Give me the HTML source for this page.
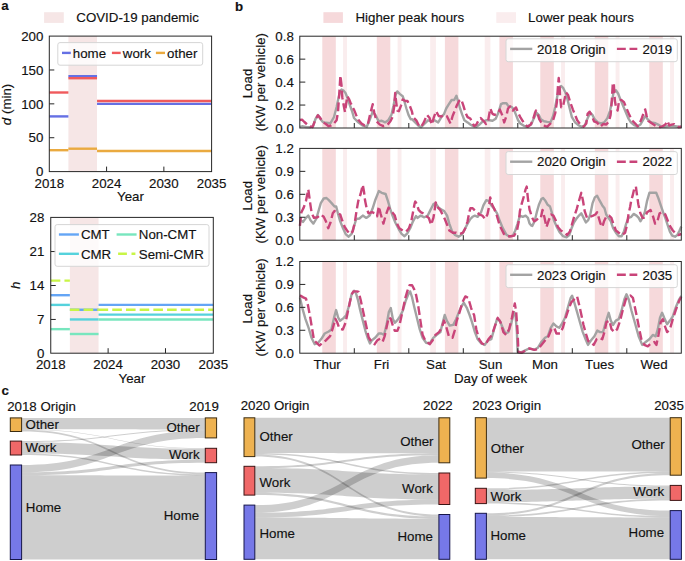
<!DOCTYPE html>
<html><head><meta charset="utf-8"><style>
html,body{margin:0;padding:0;background:#fff;}
svg{display:block;}
text{font-family:"Liberation Sans",sans-serif;font-size:13.3px;fill:#111;stroke:#111;stroke-width:0.15px;}
</style></head><body>
<svg width="685" height="561" viewBox="0 0 685 561">
<rect width="685" height="561" fill="#ffffff"/>
<text x="1.20" y="9.90" font-weight="bold">a</text>
<rect x="44.10" y="12.20" width="19.70" height="10.70" fill="#f6e6e6"/>
<text x="76.30" y="22.40">COVID-19 pandemic</text>
<rect x="68.39" y="36.10" width="28.64" height="135.50" fill="#f6e6e6"/>
<line x1="49.30" y1="116.40" x2="68.39" y2="116.40" stroke="#6570e4" stroke-width="2.4"/>
<line x1="68.39" y1="76.20" x2="97.04" y2="76.20" stroke="#6570e4" stroke-width="2.4"/>
<line x1="97.04" y1="103.90" x2="211.60" y2="103.90" stroke="#6570e4" stroke-width="2.4"/>
<line x1="49.30" y1="92.50" x2="68.39" y2="92.50" stroke="#f05a5c" stroke-width="2.4"/>
<line x1="68.39" y1="78.20" x2="97.04" y2="78.20" stroke="#f05a5c" stroke-width="2.4"/>
<line x1="97.04" y1="101.00" x2="211.60" y2="101.00" stroke="#f05a5c" stroke-width="2.4"/>
<line x1="49.30" y1="150.20" x2="68.39" y2="150.20" stroke="#eaaa40" stroke-width="2.4"/>
<line x1="68.39" y1="148.70" x2="97.04" y2="148.70" stroke="#eaaa40" stroke-width="2.4"/>
<line x1="97.04" y1="151.00" x2="211.60" y2="151.00" stroke="#eaaa40" stroke-width="2.4"/>
<line x1="106.58" y1="171.60" x2="106.58" y2="166.60" stroke="#262626" stroke-width="1"/>
<line x1="163.86" y1="171.60" x2="163.86" y2="166.60" stroke="#262626" stroke-width="1"/>
<line x1="49.30" y1="137.72" x2="54.30" y2="137.72" stroke="#262626" stroke-width="1"/>
<line x1="49.30" y1="103.85" x2="54.30" y2="103.85" stroke="#262626" stroke-width="1"/>
<line x1="49.30" y1="69.97" x2="54.30" y2="69.97" stroke="#262626" stroke-width="1"/>
<rect x="49.30" y="36.10" width="162.30" height="135.50" fill="none" stroke="#262626" stroke-width="1"/>
<text x="43.40" y="176.36" text-anchor="end">0</text>
<text x="43.40" y="142.49" text-anchor="end">50</text>
<text x="43.40" y="108.61" text-anchor="end">100</text>
<text x="43.40" y="74.74" text-anchor="end">150</text>
<text x="43.40" y="40.86" text-anchor="end">200</text>
<text x="49.30" y="187.90" text-anchor="middle">2018</text>
<text x="106.58" y="187.90" text-anchor="middle">2024</text>
<text x="163.86" y="187.90" text-anchor="middle">2030</text>
<text x="211.60" y="187.90" text-anchor="middle">2035</text>
<text x="130.45" y="201.40" text-anchor="middle">Year</text>
<text transform="translate(10.8,104.45) rotate(-90)" text-anchor="middle"><tspan font-style="italic">d</tspan> (min)</text>
<rect x="57.80" y="42.60" width="144.90" height="22.60" rx="2.2" fill="#ffffff" fill-opacity="0.8" stroke="#d6d6d6" stroke-width="1"/>
<line x1="62.00" y1="52.90" x2="70.80" y2="52.90" stroke="#6570e4" stroke-width="2.4"/>
<text x="72.80" y="57.50">home</text>
<line x1="111.90" y1="52.90" x2="120.70" y2="52.90" stroke="#f05a5c" stroke-width="2.4"/>
<text x="122.80" y="57.50">work</text>
<line x1="155.90" y1="52.90" x2="165.00" y2="52.90" stroke="#eaaa40" stroke-width="2.4"/>
<text x="167.10" y="57.50">other</text>
<rect x="69.87" y="217.40" width="28.69" height="135.80" fill="#f6e6e6"/>
<line x1="50.75" y1="295.20" x2="69.87" y2="295.20" stroke="#64a5f5" stroke-width="2.4"/>
<line x1="69.87" y1="309.75" x2="98.56" y2="309.75" stroke="#64a5f5" stroke-width="2.4"/>
<line x1="98.56" y1="304.90" x2="213.30" y2="304.90" stroke="#64a5f5" stroke-width="2.4"/>
<line x1="50.75" y1="304.90" x2="69.87" y2="304.90" stroke="#55d2dc" stroke-width="2.4"/>
<line x1="69.87" y1="319.45" x2="98.56" y2="319.45" stroke="#55d2dc" stroke-width="2.4"/>
<line x1="98.56" y1="314.60" x2="213.30" y2="314.60" stroke="#55d2dc" stroke-width="2.4"/>
<line x1="50.75" y1="329.15" x2="69.87" y2="329.15" stroke="#78e6be" stroke-width="2.4"/>
<line x1="69.87" y1="334.00" x2="98.56" y2="334.00" stroke="#78e6be" stroke-width="2.4"/>
<line x1="98.56" y1="319.45" x2="213.30" y2="319.45" stroke="#78e6be" stroke-width="2.4"/>
<line x1="50.75" y1="280.65" x2="69.87" y2="280.65" stroke="#c8f546" stroke-width="2.4" stroke-dasharray="9.6,4.1"/>
<line x1="69.87" y1="309.75" x2="98.56" y2="309.75" stroke="#c8f546" stroke-width="2.4" stroke-dasharray="9.6,4.1"/>
<line x1="98.56" y1="309.75" x2="213.30" y2="309.75" stroke="#c8f546" stroke-width="2.4" stroke-dasharray="9.6,4.1"/>
<line x1="108.12" y1="353.20" x2="108.12" y2="348.20" stroke="#262626" stroke-width="1"/>
<line x1="165.49" y1="353.20" x2="165.49" y2="348.20" stroke="#262626" stroke-width="1"/>
<line x1="50.75" y1="319.45" x2="55.75" y2="319.45" stroke="#262626" stroke-width="1"/>
<line x1="50.75" y1="285.50" x2="55.75" y2="285.50" stroke="#262626" stroke-width="1"/>
<line x1="50.75" y1="251.55" x2="55.75" y2="251.55" stroke="#262626" stroke-width="1"/>
<rect x="50.75" y="217.40" width="162.55" height="135.80" fill="none" stroke="#262626" stroke-width="1"/>
<text x="44.30" y="358.16" text-anchor="end">0</text>
<text x="44.30" y="324.21" text-anchor="end">7</text>
<text x="44.30" y="290.26" text-anchor="end">14</text>
<text x="44.30" y="256.31" text-anchor="end">21</text>
<text x="44.30" y="222.36" text-anchor="end">28</text>
<text x="50.75" y="369.40" text-anchor="middle">2018</text>
<text x="108.12" y="369.40" text-anchor="middle">2024</text>
<text x="165.49" y="369.40" text-anchor="middle">2030</text>
<text x="213.30" y="369.40" text-anchor="middle">2035</text>
<text x="132.03" y="382.70" text-anchor="middle">Year</text>
<text transform="translate(20.3,285.30) rotate(-90)" text-anchor="middle" font-style="italic">h</text>
<rect x="55.00" y="224.60" width="154.00" height="41.70" rx="2.2" fill="#ffffff" fill-opacity="0.8" stroke="#d6d6d6" stroke-width="1"/>
<line x1="58.90" y1="234.50" x2="78.90" y2="234.50" stroke="#64a5f5" stroke-width="2.4"/>
<text x="80.90" y="239.20">CMT</text>
<line x1="58.90" y1="253.80" x2="78.90" y2="253.80" stroke="#55d2dc" stroke-width="2.4"/>
<text x="80.90" y="258.50">CMR</text>
<line x1="116.60" y1="234.50" x2="136.60" y2="234.50" stroke="#78e6be" stroke-width="2.4"/>
<text x="138.80" y="239.20">Non-CMT</text>
<line x1="118.10" y1="253.80" x2="135.40" y2="253.80" stroke="#c8f546" stroke-width="2.4" stroke-dasharray="8.8,4.6"/>
<text x="138.80" y="258.50">Semi-CMR</text>
<text x="235.00" y="10.70" font-weight="bold">b</text>
<rect x="323.40" y="12.20" width="19.50" height="10.70" fill="#f6d9db"/>
<text x="355.50" y="22.40">Higher peak hours</text>
<rect x="496.30" y="12.20" width="19.70" height="10.70" fill="#faedee"/>
<text x="528.10" y="22.40">Lower peak hours</text>
<rect x="322.30" y="36.20" width="13.50" height="91.80" fill="#f6d9db"/>
<rect x="343.10" y="36.20" width="3.90" height="91.80" fill="#faedee"/>
<rect x="376.80" y="36.20" width="13.50" height="91.80" fill="#f6d9db"/>
<rect x="397.60" y="36.20" width="3.90" height="91.80" fill="#faedee"/>
<rect x="430.20" y="36.20" width="5.70" height="91.80" fill="#faedee"/>
<rect x="444.90" y="36.20" width="13.50" height="91.80" fill="#f6d9db"/>
<rect x="484.70" y="36.20" width="5.70" height="91.80" fill="#faedee"/>
<rect x="499.40" y="36.20" width="13.50" height="91.80" fill="#f6d9db"/>
<rect x="540.30" y="36.20" width="13.50" height="91.80" fill="#f6d9db"/>
<rect x="561.10" y="36.20" width="3.90" height="91.80" fill="#faedee"/>
<rect x="594.80" y="36.20" width="13.50" height="91.80" fill="#f6d9db"/>
<rect x="615.60" y="36.20" width="3.90" height="91.80" fill="#faedee"/>
<rect x="649.30" y="36.20" width="13.50" height="91.80" fill="#f6d9db"/>
<rect x="670.10" y="36.20" width="3.90" height="91.80" fill="#faedee"/>
<polyline points="299.9,126.9 303.0,126.3 306.0,127.0 310.0,127.3 313.0,126.0 315.5,119.0 318.0,115.0 320.0,118.5 322.6,121.8 326.0,122.8 330.5,123.1 334.0,117.0 336.6,107.0 338.0,100.0 340.0,92.0 341.5,89.5 343.5,90.5 345.5,93.0 347.5,98.0 349.5,104.0 352.0,111.0 354.0,118.0 358.3,122.4 362.6,125.6 366.8,126.7 370.0,119.2 372.7,111.7 375.4,114.9 378.6,121.3 381.8,120.8 385.0,122.4 388.2,120.3 391.4,114.9 393.6,105.3 395.7,94.6 397.3,91.4 400.0,94.1 402.7,96.2 404.3,101.0 406.4,108.5 408.5,114.9 410.7,119.2 412.0,119.2 415.2,122.4 418.4,125.6 421.1,127.2 423.8,124.5 428.0,120.3 431.3,121.3 434.5,120.3 438.2,122.4 441.4,117.1 444.1,113.9 446.2,108.5 448.9,104.2 451.6,100.0 454.2,100.0 456.4,95.7 458.0,101.0 460.1,108.5 462.3,114.9 464.4,120.3 467.6,122.4 470.3,124.5 473.2,126.1 476.4,126.7 479.6,124.5 482.8,121.3 486.0,120.3 489.3,120.3 492.5,120.8 495.7,118.7 498.3,112.8 501.0,104.2 503.2,103.2 506.4,103.2 508.5,106.4 511.7,106.9 513.9,109.6 516.0,114.9 518.1,120.3 520.3,123.5 523.5,125.6 526.7,126.7 531.2,124.5 533.9,118.1 536.6,112.8 538.7,114.9 540.8,119.2 544.0,121.3 547.3,121.9 550.5,122.4 553.1,116.0 555.3,106.4 557.4,95.7 559.6,87.1 561.2,86.0 563.3,88.2 565.4,92.5 567.6,99.9 569.7,108.5 571.9,117.1 575.1,122.4 578.3,125.1 581.5,126.7 584.7,125.6 588.1,117.1 590.3,112.8 592.4,114.9 594.6,119.2 597.8,122.4 601.0,123.5 604.2,122.4 607.4,118.1 610.1,110.6 612.2,99.9 613.8,91.4 615.9,90.3 618.1,93.5 620.2,98.9 622.9,105.3 625.6,111.7 628.2,118.1 630.9,122.4 634.1,125.1 637.3,126.3 640.5,124.5 643.9,118.3 645.7,115.6 647.5,119.2 650.2,121.9 652.8,122.8 655.5,123.2 658.2,124.6 660.8,126.3 664.4,126.8 668.0,126.3 671.5,125.9 675.1,126.3 678.7,126.8 681.3,126.8" fill="none" stroke="#a3a3a3" stroke-width="2.4" stroke-linejoin="round"/>
<polyline points="299.9,120.0 302.0,119.6 304.4,122.0 308.0,125.2 310.0,126.5 312.6,127.2 315.0,120.8 317.9,115.2 320.2,117.9 323.1,122.5 325.5,123.7 328.4,126.0 331.0,125.5 333.1,124.3 336.6,120.2 338.0,112.0 339.5,90.0 340.4,75.6 341.5,85.0 342.3,97.4 344.0,107.0 345.0,112.0 346.0,105.0 347.3,96.2 349.0,99.0 350.4,102.4 353.0,108.0 354.0,109.6 356.1,114.9 358.3,119.7 361.5,123.5 364.7,125.6 367.9,124.0 370.0,114.9 372.7,104.2 374.3,112.8 376.5,121.3 379.7,124.5 383.4,126.1 387.2,125.1 390.4,121.3 392.5,117.1 394.1,107.4 395.2,93.0 396.2,102.1 397.3,110.6 398.9,111.2 401.1,105.3 402.7,99.4 405.3,101.0 407.5,101.0 409.6,105.3 412.0,111.7 413.1,117.1 416.3,120.3 419.5,126.7 421.6,126.1 423.8,122.4 427.0,114.9 429.6,118.1 431.8,124.5 433.9,117.1 436.1,111.2 438.7,116.0 441.4,116.5 444.1,114.9 446.8,116.0 448.9,120.3 450.5,123.5 452.6,116.0 454.8,110.6 456.9,105.3 459.1,101.0 461.2,99.4 463.3,105.3 465.5,112.8 467.6,117.1 470.3,118.5 472.1,122.4 474.3,126.1 476.4,124.5 478.6,120.3 480.7,118.1 483.9,121.3 486.0,124.0 488.2,120.3 490.3,108.5 492.5,113.9 494.6,114.9 497.3,113.9 499.9,109.6 502.1,114.9 504.2,122.4 506.4,116.0 508.0,108.5 510.1,106.4 512.8,110.6 516.0,107.4 518.1,112.8 520.3,117.1 522.9,121.3 525.1,124.5 527.8,126.7 530.7,124.5 532.8,120.3 535.0,112.8 536.0,110.6 537.6,113.9 539.2,119.2 541.9,123.5 545.1,126.1 547.3,126.7 550.5,123.5 553.1,120.3 555.3,112.8 556.9,102.1 557.9,87.1 558.7,78.0 559.6,86.0 560.1,96.7 561.2,107.4 562.8,107.4 564.4,99.9 566.0,92.5 568.1,95.1 570.2,102.1 572.9,109.6 575.1,114.9 577.2,120.3 580.4,124.5 583.6,126.7 586.3,123.5 587.6,113.9 589.7,111.7 591.9,116.0 594.0,121.3 596.7,122.4 598.8,124.5 600.4,126.7 603.1,124.0 606.3,124.5 609.0,121.3 610.6,114.9 611.7,102.1 612.7,85.0 613.8,82.8 614.3,91.4 614.9,101.0 615.9,106.4 617.6,110.6 619.2,99.9 621.3,99.9 624.0,102.1 626.6,108.5 629.3,114.9 632.0,120.3 635.2,123.5 637.7,126.3 639.9,122.8 642.1,117.4 643.9,112.1 645.2,109.4 646.6,115.6 648.4,121.0 651.0,122.8 653.7,124.6 656.4,126.3 660.0,127.2 662.6,126.3 665.3,124.6 667.5,121.0 669.3,125.5 671.5,124.6 674.2,124.1 676.4,125.5 678.7,127.2 681.3,126.8" fill="none" stroke="#c94479" stroke-width="2.4" stroke-dasharray="8.9,3.8" stroke-linejoin="round"/>
<line x1="354.30" y1="128.00" x2="354.30" y2="123.00" stroke="#262626" stroke-width="1"/>
<line x1="408.80" y1="128.00" x2="408.80" y2="123.00" stroke="#262626" stroke-width="1"/>
<line x1="463.30" y1="128.00" x2="463.30" y2="123.00" stroke="#262626" stroke-width="1"/>
<line x1="517.80" y1="128.00" x2="517.80" y2="123.00" stroke="#262626" stroke-width="1"/>
<line x1="572.30" y1="128.00" x2="572.30" y2="123.00" stroke="#262626" stroke-width="1"/>
<line x1="626.80" y1="128.00" x2="626.80" y2="123.00" stroke="#262626" stroke-width="1"/>
<line x1="299.80" y1="105.05" x2="305.30" y2="105.05" stroke="#262626" stroke-width="1"/>
<line x1="299.80" y1="82.10" x2="305.30" y2="82.10" stroke="#262626" stroke-width="1"/>
<line x1="299.80" y1="59.15" x2="305.30" y2="59.15" stroke="#262626" stroke-width="1"/>
<rect x="299.80" y="36.20" width="381.50" height="91.80" fill="none" stroke="#262626" stroke-width="1"/>
<text x="293.80" y="132.76" text-anchor="end">0.0</text>
<text x="293.80" y="109.81" text-anchor="end">0.2</text>
<text x="293.80" y="86.86" text-anchor="end">0.4</text>
<text x="293.80" y="63.91" text-anchor="end">0.6</text>
<text x="293.80" y="40.96" text-anchor="end">0.8</text>
<text transform="translate(252.1,83.50) rotate(-90)" text-anchor="middle">Load</text>
<text transform="translate(265.2,82.10) rotate(-90)" text-anchor="middle">(KW per vehicle)</text>
<rect x="506.00" y="38.80" width="171.30" height="22.90" rx="2.2" fill="#ffffff" fill-opacity="0.8" stroke="#d6d6d6" stroke-width="1"/>
<line x1="510.10" y1="48.90" x2="532.30" y2="48.90" stroke="#a3a3a3" stroke-width="2.4"/>
<text x="537.00" y="53.60">2018 Origin</text>
<line x1="616.90" y1="48.90" x2="637.30" y2="48.90" stroke="#c94479" stroke-width="2.4" stroke-dasharray="8.9,3.7"/>
<text x="642.60" y="53.60">2019</text>
<rect x="322.30" y="148.40" width="13.50" height="91.80" fill="#f6d9db"/>
<rect x="343.10" y="148.40" width="3.90" height="91.80" fill="#faedee"/>
<rect x="376.80" y="148.40" width="13.50" height="91.80" fill="#f6d9db"/>
<rect x="397.60" y="148.40" width="3.90" height="91.80" fill="#faedee"/>
<rect x="430.20" y="148.40" width="5.70" height="91.80" fill="#faedee"/>
<rect x="444.90" y="148.40" width="13.50" height="91.80" fill="#f6d9db"/>
<rect x="484.70" y="148.40" width="5.70" height="91.80" fill="#faedee"/>
<rect x="499.40" y="148.40" width="13.50" height="91.80" fill="#f6d9db"/>
<rect x="540.30" y="148.40" width="13.50" height="91.80" fill="#f6d9db"/>
<rect x="561.10" y="148.40" width="3.90" height="91.80" fill="#faedee"/>
<rect x="594.80" y="148.40" width="13.50" height="91.80" fill="#f6d9db"/>
<rect x="615.60" y="148.40" width="3.90" height="91.80" fill="#faedee"/>
<rect x="649.30" y="148.40" width="13.50" height="91.80" fill="#f6d9db"/>
<rect x="670.10" y="148.40" width="3.90" height="91.80" fill="#faedee"/>
<polyline points="299.9,220.2 303.1,221.9 306.0,217.9 308.3,215.6 310.5,220.2 313.4,223.6 316.2,219.0 318.5,211.1 320.8,203.1 323.7,198.5 326.5,198.0 328.8,200.2 331.6,203.1 334.5,206.5 336.2,206.5 337.9,213.3 340.2,221.3 343.0,228.2 345.9,234.4 348.7,236.7 351.6,233.9 353.9,227.0 356.2,219.0 359.4,218.5 362.8,215.6 366.3,217.9 369.7,215.6 372.5,208.8 375.4,199.7 378.8,191.1 381.7,192.8 385.6,194.0 387.9,200.8 390.2,208.8 392.5,215.6 395.3,222.5 398.8,229.3 401.6,233.9 404.5,236.2 407.3,233.3 410.2,228.2 413.0,221.3 416.0,216.0 417.4,217.9 420.8,215.6 424.3,217.3 427.7,215.6 430.5,209.9 433.4,204.2 435.7,203.1 438.5,207.6 441.4,209.4 444.2,211.1 447.1,215.6 449.3,223.6 452.2,231.6 455.0,235.0 458.5,236.7 461.9,234.4 464.7,229.3 467.6,223.6 470.4,219.0 472.5,216.8 474.9,215.6 477.7,216.8 481.1,212.2 483.4,205.4 486.3,200.2 488.5,200.8 491.4,205.4 494.2,208.8 497.1,213.3 499.9,221.3 502.8,228.2 506.2,234.4 509.6,236.7 513.0,235.6 515.3,230.5 517.6,223.6 519.9,215.6 522.7,216.8 525.6,215.6 527.9,217.9 529.6,223.6 531.0,225.3 532.3,225.9 534.6,221.3 536.8,212.2 539.1,204.2 541.4,199.1 543.1,198.0 545.4,200.8 547.7,204.8 550.0,206.5 551.7,212.2 553.9,220.2 556.8,227.0 559.6,232.2 563.1,236.2 566.5,237.3 569.3,235.0 571.6,228.2 573.9,222.5 576.2,219.0 579.0,215.6 581.3,213.3 583.6,217.9 585.9,222.5 588.2,220.2 590.3,214.5 592.6,203.1 594.8,197.4 597.1,195.7 599.4,200.2 602.3,205.4 604.5,208.2 606.2,214.5 608.5,217.9 610.8,221.3 613.1,228.2 615.9,232.7 618.8,236.2 621.6,236.2 623.9,231.6 626.2,223.6 628.5,217.9 631.3,216.8 633.6,213.9 636.5,215.6 638.7,217.9 640.4,221.3 642.5,217.9 644.8,212.2 647.1,200.8 649.4,192.8 652.8,192.8 656.2,192.8 658.5,198.5 660.8,205.4 663.1,212.2 665.3,217.9 667.6,224.8 669.9,231.6 672.2,235.6 675.0,236.7 677.3,235.0 679.6,230.5 681.3,226.5" fill="none" stroke="#a3a3a3" stroke-width="2.4" stroke-linejoin="round"/>
<polyline points="299.9,225.9 301.4,212.2 303.7,207.6 306.0,200.8 308.3,189.4 309.4,197.4 310.5,205.4 311.7,213.3 314.0,217.9 317.4,217.3 320.8,214.5 323.7,216.8 325.9,221.3 328.2,228.2 330.5,222.5 332.8,213.3 334.5,211.1 337.3,212.8 340.2,214.5 342.5,221.3 344.7,227.0 347.0,230.5 349.9,233.9 352.7,231.6 355.0,221.3 356.5,211.0 358.3,200.8 360.6,194.0 362.8,184.8 364.0,191.7 365.1,200.8 366.8,208.8 368.5,213.3 372.0,212.2 374.8,213.3 377.1,216.2 378.8,206.5 380.5,213.3 383.4,223.6 385.6,215.6 388.5,207.6 391.3,211.1 394.8,215.6 397.0,223.6 399.3,228.2 402.8,230.5 406.2,231.6 409.0,228.2 411.3,221.3 413.0,212.2 414.7,203.1 415.3,201.5 416.9,204.2 418.6,209.9 420.8,212.2 423.1,213.3 425.4,215.6 428.8,217.9 431.1,224.8 433.4,217.9 434.5,211.1 435.7,202.5 438.0,207.6 440.2,209.9 442.5,214.5 444.8,219.0 447.1,224.8 449.3,230.5 452.8,232.7 456.2,232.7 459.6,233.9 463.0,232.7 465.3,228.2 467.6,221.3 469.3,212.2 470.4,208.2 472.7,208.2 474.3,209.9 476.6,212.2 479.4,214.5 482.3,215.6 485.1,219.0 487.4,214.5 489.1,206.5 490.2,197.4 492.0,204.2 494.2,208.8 496.5,214.5 498.8,222.5 501.1,228.2 503.9,233.9 507.3,236.2 510.8,236.2 514.2,235.6 517.0,230.5 518.8,221.3 519.9,211.1 521.6,204.2 523.9,196.2 525.6,189.4 526.7,186.6 527.9,198.5 529.6,209.9 530.4,212.0 531.7,216.8 534.0,221.3 536.3,220.2 538.6,217.9 540.8,217.9 542.5,209.9 544.3,216.8 546.5,227.0 548.8,220.2 551.1,214.5 553.4,215.6 555.7,220.2 557.9,227.0 560.8,230.5 564.2,232.7 567.1,235.0 569.9,231.6 572.2,223.6 574.5,215.6 576.8,208.8 579.0,200.8 581.3,192.8 583.0,200.8 584.7,211.1 587.0,217.9 590.3,216.8 593.1,215.6 595.4,214.5 597.1,212.2 598.8,217.9 600.5,223.6 602.3,227.0 604.0,221.3 606.2,216.8 609.1,215.6 611.4,217.9 613.7,224.8 615.9,230.5 618.8,232.7 622.2,235.0 625.1,232.7 626.8,225.9 628.5,214.5 630.2,206.5 631.3,200.0 632.5,196.2 634.6,187.1 635.9,186.6 637.0,195.1 638.3,204.2 640.4,213.3 642.6,217.9 644.8,217.9 647.1,212.2 650.5,209.9 652.8,215.6 655.1,223.6 657.4,221.3 659.6,213.3 662.5,212.2 665.3,214.5 667.6,220.2 669.9,225.9 672.8,230.5 675.6,233.3 678.5,235.0 681.3,234.0" fill="none" stroke="#c94479" stroke-width="2.4" stroke-dasharray="8.9,3.8" stroke-linejoin="round"/>
<line x1="354.30" y1="240.20" x2="354.30" y2="235.20" stroke="#262626" stroke-width="1"/>
<line x1="408.80" y1="240.20" x2="408.80" y2="235.20" stroke="#262626" stroke-width="1"/>
<line x1="463.30" y1="240.20" x2="463.30" y2="235.20" stroke="#262626" stroke-width="1"/>
<line x1="517.80" y1="240.20" x2="517.80" y2="235.20" stroke="#262626" stroke-width="1"/>
<line x1="572.30" y1="240.20" x2="572.30" y2="235.20" stroke="#262626" stroke-width="1"/>
<line x1="626.80" y1="240.20" x2="626.80" y2="235.20" stroke="#262626" stroke-width="1"/>
<line x1="299.80" y1="217.25" x2="305.30" y2="217.25" stroke="#262626" stroke-width="1"/>
<line x1="299.80" y1="194.30" x2="305.30" y2="194.30" stroke="#262626" stroke-width="1"/>
<line x1="299.80" y1="171.35" x2="305.30" y2="171.35" stroke="#262626" stroke-width="1"/>
<rect x="299.80" y="148.40" width="381.50" height="91.80" fill="none" stroke="#262626" stroke-width="1"/>
<text x="293.80" y="244.96" text-anchor="end">0.0</text>
<text x="293.80" y="222.01" text-anchor="end">0.3</text>
<text x="293.80" y="199.06" text-anchor="end">0.6</text>
<text x="293.80" y="176.11" text-anchor="end">0.9</text>
<text x="293.80" y="153.16" text-anchor="end">1.2</text>
<text transform="translate(252.1,195.70) rotate(-90)" text-anchor="middle">Load</text>
<text transform="translate(265.2,194.30) rotate(-90)" text-anchor="middle">(KW per vehicle)</text>
<rect x="506.00" y="151.60" width="171.30" height="22.90" rx="2.2" fill="#ffffff" fill-opacity="0.8" stroke="#d6d6d6" stroke-width="1"/>
<line x1="510.10" y1="161.70" x2="532.30" y2="161.70" stroke="#a3a3a3" stroke-width="2.4"/>
<text x="537.00" y="166.40">2020 Origin</text>
<line x1="616.90" y1="161.70" x2="637.30" y2="161.70" stroke="#c94479" stroke-width="2.4" stroke-dasharray="8.9,3.7"/>
<text x="642.60" y="166.40">2022</text>
<rect x="322.30" y="261.50" width="13.50" height="91.70" fill="#f6d9db"/>
<rect x="343.10" y="261.50" width="3.90" height="91.70" fill="#faedee"/>
<rect x="376.80" y="261.50" width="13.50" height="91.70" fill="#f6d9db"/>
<rect x="397.60" y="261.50" width="3.90" height="91.70" fill="#faedee"/>
<rect x="430.20" y="261.50" width="5.70" height="91.70" fill="#faedee"/>
<rect x="444.90" y="261.50" width="13.50" height="91.70" fill="#f6d9db"/>
<rect x="484.70" y="261.50" width="5.70" height="91.70" fill="#faedee"/>
<rect x="499.40" y="261.50" width="13.50" height="91.70" fill="#f6d9db"/>
<rect x="540.30" y="261.50" width="13.50" height="91.70" fill="#f6d9db"/>
<rect x="561.10" y="261.50" width="3.90" height="91.70" fill="#faedee"/>
<rect x="594.80" y="261.50" width="13.50" height="91.70" fill="#f6d9db"/>
<rect x="615.60" y="261.50" width="3.90" height="91.70" fill="#faedee"/>
<rect x="649.30" y="261.50" width="13.50" height="91.70" fill="#f6d9db"/>
<rect x="670.10" y="261.50" width="3.90" height="91.70" fill="#faedee"/>
<polyline points="299.9,297.4 302.7,309.4 305.4,318.8 308.7,328.1 311.4,337.5 314.7,344.2 318.1,342.8 321.4,338.8 324.7,333.5 328.7,331.5 331.4,329.5 334.1,317.4 336.1,310.1 338.1,317.4 340.1,320.8 343.5,318.1 346.1,315.4 348.8,306.7 351.5,294.7 354.1,290.7 356.0,293.4 358.0,300.1 360.0,309.4 362.7,320.1 365.4,330.8 368.0,338.8 370.0,343.5 372.0,340.2 375.4,337.5 378.7,333.5 381.4,333.5 384.1,334.8 386.7,324.1 388.8,312.1 390.8,308.1 392.8,318.8 394.8,322.8 397.4,320.1 400.1,316.1 402.8,310.7 405.5,301.4 408.1,294.7 410.1,291.4 412.1,297.4 414.2,306.7 416.9,317.8 419.7,329.2 422.6,337.8 426.1,342.8 429.7,343.5 433.3,337.8 436.8,334.9 440.4,332.1 442.5,323.5 444.7,315.0 446.8,320.6 449.7,325.6 453.2,324.9 456.1,319.2 458.9,312.1 461.8,305.7 463.9,302.8 466.8,307.8 469.6,315.0 472.0,322.1 474.9,332.1 477.7,339.2 481.3,343.5 484.8,344.9 487.7,340.6 491.3,339.2 494.1,329.2 497.0,319.2 499.8,320.6 502.7,327.8 505.5,333.5 508.4,332.1 511.2,323.5 514.1,312.1 515.5,315.0 516.9,332.1 517.6,352.0 520.5,352.7 524.8,350.6 529.1,348.5 532.0,349.2 534.3,349.9 537.8,347.8 541.4,342.0 545.0,337.8 547.8,336.3 550.7,327.8 553.5,323.5 556.4,326.4 559.2,327.8 562.1,323.5 565.0,317.8 567.8,307.8 570.7,297.8 572.1,295.7 574.2,302.1 577.1,312.1 579.9,322.1 582.8,332.1 585.6,339.2 588.0,344.9 590.9,340.6 594.4,336.3 597.3,330.6 600.1,332.1 603.0,332.1 605.8,322.1 608.7,312.8 610.8,320.6 613.0,325.0 615.8,320.6 618.7,319.2 621.5,310.7 624.4,299.3 626.5,294.3 628.7,299.3 631.5,310.7 635.1,323.5 638.6,336.3 642.2,344.9 645.7,342.0 649.3,339.2 652.8,334.9 655.7,336.3 657.8,329.2 660.0,317.8 662.1,312.8 664.2,317.8 667.1,324.2 669.9,320.6 672.8,316.4 675.6,307.8 679.2,299.3 681.3,296.0" fill="none" stroke="#a3a3a3" stroke-width="2.4" stroke-linejoin="round"/>
<polyline points="299.9,295.4 303.3,297.4 306.0,298.7 308.0,305.4 310.0,316.1 312.0,328.1 314.0,340.2 316.7,342.8 319.4,345.5 322.7,342.8 326.1,340.2 330.1,336.1 332.8,328.1 335.4,318.8 337.4,322.8 339.4,328.8 342.8,329.5 345.5,322.8 347.5,313.4 349.5,304.1 351.5,294.7 353.5,291.4 356.8,291.4 358.7,292.0 360.7,300.1 362.7,309.4 364.7,318.8 366.7,328.1 368.7,337.5 371.4,341.5 374.7,344.2 377.4,340.2 380.1,338.8 382.7,341.5 384.7,336.1 386.7,326.8 388.8,317.4 390.8,318.8 392.8,325.5 394.8,330.8 397.4,330.8 399.4,325.5 401.5,316.1 403.5,306.7 405.5,297.4 407.5,290.7 409.5,285.3 412.1,285.3 414.2,289.4 416.1,295.0 418.3,306.4 420.4,320.6 422.6,334.9 425.4,340.6 429.7,344.2 432.5,340.6 435.4,334.9 439.0,332.1 441.8,327.8 444.0,320.6 446.1,326.4 448.9,336.3 452.5,337.8 454.7,330.6 456.8,320.6 459.6,312.1 462.5,302.1 465.4,296.4 468.2,297.8 471.1,307.8 472.5,312.0 474.1,315.0 476.3,329.2 479.1,339.2 482.0,343.5 485.6,344.9 488.4,339.2 492.0,334.9 494.8,326.4 497.7,317.8 500.5,322.1 503.4,332.1 506.2,334.9 509.1,329.2 511.9,317.8 514.8,303.5 516.2,312.1 517.6,332.1 518.4,352.0 521.9,352.7 526.2,349.9 529.1,348.5 532.0,349.2 534.3,349.9 537.8,349.2 541.4,344.9 545.0,340.6 548.5,336.3 551.4,329.2 554.3,327.8 556.4,333.5 560.0,333.5 562.8,327.8 565.7,317.8 568.5,309.2 571.4,302.1 574.2,299.3 577.1,296.4 579.2,305.0 581.4,315.0 583.5,325.0 586.3,334.9 588.2,341.0 590.9,342.0 593.7,344.9 596.6,339.2 599.4,337.8 602.3,339.2 604.4,332.1 606.5,322.1 609.4,320.6 611.5,329.2 614.4,332.1 617.2,329.2 620.1,320.6 623.0,309.2 625.8,299.3 628.7,296.4 630.5,295.5 632.9,297.8 635.0,307.8 637.1,317.8 639.3,329.2 641.4,339.2 644.3,344.9 647.8,346.3 650.7,343.5 654.3,342.0 656.4,344.9 658.5,334.9 660.7,322.1 662.8,319.2 665.0,326.4 667.1,332.1 669.9,329.2 672.8,319.2 675.6,310.7 679.2,300.7 681.3,297.0" fill="none" stroke="#c94479" stroke-width="2.4" stroke-dasharray="8.9,3.8" stroke-linejoin="round"/>
<line x1="354.30" y1="353.20" x2="354.30" y2="348.20" stroke="#262626" stroke-width="1"/>
<line x1="408.80" y1="353.20" x2="408.80" y2="348.20" stroke="#262626" stroke-width="1"/>
<line x1="463.30" y1="353.20" x2="463.30" y2="348.20" stroke="#262626" stroke-width="1"/>
<line x1="517.80" y1="353.20" x2="517.80" y2="348.20" stroke="#262626" stroke-width="1"/>
<line x1="572.30" y1="353.20" x2="572.30" y2="348.20" stroke="#262626" stroke-width="1"/>
<line x1="626.80" y1="353.20" x2="626.80" y2="348.20" stroke="#262626" stroke-width="1"/>
<line x1="299.80" y1="330.27" x2="305.30" y2="330.27" stroke="#262626" stroke-width="1"/>
<line x1="299.80" y1="307.35" x2="305.30" y2="307.35" stroke="#262626" stroke-width="1"/>
<line x1="299.80" y1="284.43" x2="305.30" y2="284.43" stroke="#262626" stroke-width="1"/>
<rect x="299.80" y="261.50" width="381.50" height="91.70" fill="none" stroke="#262626" stroke-width="1"/>
<text x="293.80" y="357.96" text-anchor="end">0.0</text>
<text x="293.80" y="335.04" text-anchor="end">0.3</text>
<text x="293.80" y="312.11" text-anchor="end">0.6</text>
<text x="293.80" y="289.19" text-anchor="end">0.9</text>
<text x="293.80" y="266.26" text-anchor="end">1.2</text>
<text transform="translate(252.1,308.75) rotate(-90)" text-anchor="middle">Load</text>
<text transform="translate(265.2,307.35) rotate(-90)" text-anchor="middle">(KW per vehicle)</text>
<rect x="506.00" y="264.70" width="171.30" height="22.90" rx="2.2" fill="#ffffff" fill-opacity="0.8" stroke="#d6d6d6" stroke-width="1"/>
<line x1="510.10" y1="274.80" x2="532.30" y2="274.80" stroke="#a3a3a3" stroke-width="2.4"/>
<text x="537.00" y="279.50">2023 Origin</text>
<line x1="616.90" y1="274.80" x2="637.30" y2="274.80" stroke="#c94479" stroke-width="2.4" stroke-dasharray="8.9,3.7"/>
<text x="642.60" y="279.50">2035</text>
<text x="327.05" y="368.90" text-anchor="middle">Thur</text>
<text x="381.55" y="368.90" text-anchor="middle">Fri</text>
<text x="436.05" y="368.90" text-anchor="middle">Sat</text>
<text x="490.55" y="368.90" text-anchor="middle">Sun</text>
<text x="545.05" y="368.90" text-anchor="middle">Mon</text>
<text x="599.55" y="368.90" text-anchor="middle">Tues</text>
<text x="654.05" y="368.90" text-anchor="middle">Wed</text>
<text x="490.55" y="382.60" text-anchor="middle">Day of week</text>
<text x="1.50" y="394.90" font-weight="bold">c</text>
<path d="M21.60,417.90 C113.45,417.90 113.45,417.90 205.30,417.90 L205.30,429.47 C113.45,429.47 113.45,429.30 21.60,429.30 Z" fill="rgba(0,0,0,0.193)"/>
<path d="M21.60,429.30 C113.45,429.30 113.45,448.30 205.30,448.30 L205.30,448.80 C113.45,448.80 113.45,429.80 21.60,429.80 Z" fill="rgba(0,0,0,0.193)"/>
<path d="M21.60,429.80 C113.45,429.80 113.45,472.60 205.30,472.60 L205.30,474.30 C113.45,474.30 113.45,431.50 21.60,431.50 Z" fill="rgba(0,0,0,0.193)"/>
<path d="M21.60,441.10 C113.45,441.10 113.45,429.47 205.30,429.47 L205.30,430.49 C113.45,430.49 113.45,442.14 21.60,442.14 Z" fill="rgba(0,0,0,0.193)"/>
<path d="M21.60,442.14 C113.45,442.14 113.45,448.80 205.30,448.80 L205.30,459.72 C113.45,459.72 113.45,453.55 21.60,453.55 Z" fill="rgba(0,0,0,0.193)"/>
<path d="M21.60,453.55 C113.45,453.55 113.45,474.30 205.30,474.30 L205.30,475.71 C113.45,475.71 113.45,455.00 21.60,455.00 Z" fill="rgba(0,0,0,0.193)"/>
<path d="M21.60,465.00 C113.45,465.00 113.45,430.49 205.30,430.49 L205.30,437.90 C113.45,437.90 113.45,472.35 21.60,472.35 Z" fill="rgba(0,0,0,0.193)"/>
<path d="M21.60,472.35 C113.45,472.35 113.45,459.72 205.30,459.72 L205.30,462.70 C113.45,462.70 113.45,475.37 21.60,475.37 Z" fill="rgba(0,0,0,0.193)"/>
<path d="M21.60,475.37 C113.45,475.37 113.45,475.71 205.30,475.71 L205.30,559.50 C113.45,559.50 113.45,559.50 21.60,559.50 Z" fill="rgba(0,0,0,0.193)"/>
<rect x="10.30" y="417.90" width="11.30" height="13.60" fill="#eeb250" stroke="#3c2c10" stroke-width="1"/>
<rect x="205.30" y="417.90" width="11.30" height="20.00" fill="#eeb250" stroke="#3c2c10" stroke-width="1"/>
<rect x="10.30" y="441.10" width="11.30" height="13.90" fill="#f06868" stroke="#3c1414" stroke-width="1"/>
<rect x="205.30" y="448.30" width="11.30" height="14.40" fill="#f06868" stroke="#3c1414" stroke-width="1"/>
<rect x="10.30" y="465.00" width="11.30" height="94.50" fill="#7678e8" stroke="#16164a" stroke-width="1"/>
<rect x="205.30" y="472.60" width="11.30" height="86.90" fill="#7678e8" stroke="#16164a" stroke-width="1"/>
<text x="25.60" y="429.10">Other</text>
<text x="25.60" y="452.30">Work</text>
<text x="25.80" y="511.70">Home</text>
<text x="199.70" y="431.50" text-anchor="end">Other</text>
<text x="199.70" y="458.70" text-anchor="end">Work</text>
<text x="199.20" y="519.80" text-anchor="end">Home</text>
<text x="7.20" y="410.60">2018 Origin</text>
<text x="218.90" y="410.60" text-anchor="end">2019</text>
<path d="M254.80,417.80 C346.85,417.80 346.85,417.80 438.90,417.80 L438.90,453.32 C346.85,453.32 346.85,453.00 254.80,453.00 Z" fill="rgba(0,0,0,0.193)"/>
<path d="M254.80,453.00 C346.85,453.00 346.85,473.00 438.90,473.00 L438.90,474.52 C346.85,474.52 346.85,454.50 254.80,454.50 Z" fill="rgba(0,0,0,0.193)"/>
<path d="M254.80,454.50 C346.85,454.50 346.85,514.50 438.90,514.50 L438.90,516.55 C346.85,516.55 346.85,456.60 254.80,456.60 Z" fill="rgba(0,0,0,0.193)"/>
<path d="M254.80,466.30 C346.85,466.30 346.85,453.32 438.90,453.32 L438.90,455.13 C346.85,455.13 346.85,468.10 254.80,468.10 Z" fill="rgba(0,0,0,0.193)"/>
<path d="M254.80,468.10 C346.85,468.10 346.85,474.52 438.90,474.52 L438.90,499.62 C346.85,499.62 346.85,492.80 254.80,492.80 Z" fill="rgba(0,0,0,0.193)"/>
<path d="M254.80,492.80 C346.85,492.80 346.85,516.55 438.90,516.55 L438.90,518.80 C346.85,518.80 346.85,495.10 254.80,495.10 Z" fill="rgba(0,0,0,0.193)"/>
<path d="M254.80,505.10 C346.85,505.10 346.85,455.13 438.90,455.13 L438.90,462.80 C346.85,462.80 346.85,512.76 254.80,512.76 Z" fill="rgba(0,0,0,0.193)"/>
<path d="M254.80,512.76 C346.85,512.76 346.85,499.62 438.90,499.62 L438.90,504.50 C346.85,504.50 346.85,517.59 254.80,517.59 Z" fill="rgba(0,0,0,0.193)"/>
<path d="M254.80,517.59 C346.85,517.59 346.85,518.80 438.90,518.80 L438.90,559.30 C346.85,559.30 346.85,559.30 254.80,559.30 Z" fill="rgba(0,0,0,0.193)"/>
<rect x="244.00" y="417.80" width="10.80" height="38.80" fill="#eeb250" stroke="#3c2c10" stroke-width="1"/>
<rect x="438.90" y="417.80" width="10.90" height="45.00" fill="#eeb250" stroke="#3c2c10" stroke-width="1"/>
<rect x="244.00" y="466.30" width="10.80" height="28.80" fill="#f06868" stroke="#3c1414" stroke-width="1"/>
<rect x="438.90" y="473.00" width="10.90" height="31.50" fill="#f06868" stroke="#3c1414" stroke-width="1"/>
<rect x="244.00" y="505.10" width="10.80" height="54.20" fill="#7678e8" stroke="#16164a" stroke-width="1"/>
<rect x="438.90" y="514.50" width="10.90" height="44.80" fill="#7678e8" stroke="#16164a" stroke-width="1"/>
<text x="259.50" y="440.60">Other</text>
<text x="259.50" y="486.80">Work</text>
<text x="259.50" y="537.60">Home</text>
<text x="433.50" y="445.60" text-anchor="end">Other</text>
<text x="432.90" y="492.80" text-anchor="end">Work</text>
<text x="432.90" y="541.00" text-anchor="end">Home</text>
<text x="240.70" y="410.00">2020 Origin</text>
<text x="452.70" y="410.00" text-anchor="end">2022</text>
<path d="M486.40,417.70 C578.30,417.70 578.30,417.70 670.20,417.70 L670.20,471.60 C578.30,471.60 578.30,471.60 486.40,471.60 Z" fill="rgba(0,0,0,0.193)"/>
<path d="M486.40,471.60 C578.30,471.60 578.30,485.40 670.20,485.40 L670.20,486.40 C578.30,486.40 578.30,472.60 486.40,472.60 Z" fill="rgba(0,0,0,0.193)"/>
<path d="M486.40,472.60 C578.30,472.60 578.30,510.60 670.20,510.60 L670.20,516.04 C578.30,516.04 578.30,478.10 486.40,478.10 Z" fill="rgba(0,0,0,0.193)"/>
<path d="M486.40,488.30 C578.30,488.30 578.30,471.60 670.20,471.60 L670.20,473.10 C578.30,473.10 578.30,489.80 486.40,489.80 Z" fill="rgba(0,0,0,0.193)"/>
<path d="M486.40,489.80 C578.30,489.80 578.30,486.40 670.20,486.40 L670.20,498.70 C578.30,498.70 578.30,502.10 486.40,502.10 Z" fill="rgba(0,0,0,0.193)"/>
<path d="M486.40,502.10 C578.30,502.10 578.30,516.04 670.20,516.04 L670.20,517.53 C578.30,517.53 578.30,503.60 486.40,503.60 Z" fill="rgba(0,0,0,0.193)"/>
<path d="M486.40,513.30 C578.30,513.30 578.30,473.10 670.20,473.10 L670.20,475.20 C578.30,475.20 578.30,515.40 486.40,515.40 Z" fill="rgba(0,0,0,0.193)"/>
<path d="M486.40,515.40 C578.30,515.40 578.30,498.70 670.20,498.70 L670.20,500.40 C578.30,500.40 578.30,517.10 486.40,517.10 Z" fill="rgba(0,0,0,0.193)"/>
<path d="M486.40,517.10 C578.30,517.10 578.30,517.53 670.20,517.53 L670.20,559.30 C578.30,559.30 578.30,559.30 486.40,559.30 Z" fill="rgba(0,0,0,0.193)"/>
<rect x="475.30" y="417.70" width="11.10" height="60.40" fill="#eeb250" stroke="#3c2c10" stroke-width="1"/>
<rect x="670.20" y="417.70" width="11.20" height="57.50" fill="#eeb250" stroke="#3c2c10" stroke-width="1"/>
<rect x="475.30" y="488.30" width="11.10" height="15.30" fill="#f06868" stroke="#3c1414" stroke-width="1"/>
<rect x="670.20" y="485.40" width="11.20" height="15.00" fill="#f06868" stroke="#3c1414" stroke-width="1"/>
<rect x="475.30" y="513.30" width="11.10" height="46.00" fill="#7678e8" stroke="#16164a" stroke-width="1"/>
<rect x="670.20" y="510.60" width="11.20" height="48.70" fill="#7678e8" stroke="#16164a" stroke-width="1"/>
<text x="490.80" y="453.30">Other</text>
<text x="490.50" y="500.80">Work</text>
<text x="490.50" y="539.80">Home</text>
<text x="664.80" y="448.80" text-anchor="end">Other</text>
<text x="664.10" y="496.30" text-anchor="end">Work</text>
<text x="664.10" y="536.90" text-anchor="end">Home</text>
<text x="472.30" y="410.20">2023 Origin</text>
<text x="683.80" y="410.20" text-anchor="end">2035</text>
</svg>
</body></html>
